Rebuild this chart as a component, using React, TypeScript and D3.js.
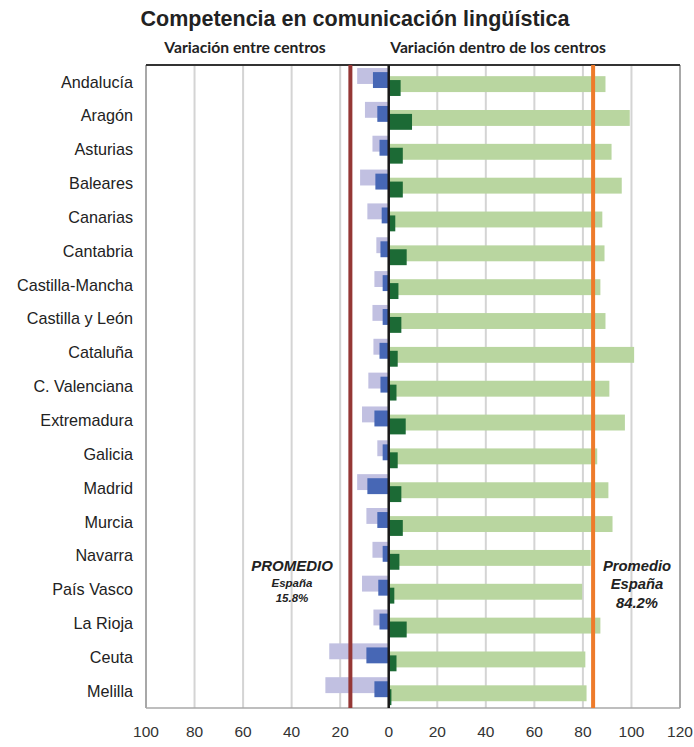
import React from "react";
import * as d3 from "d3";

const categories = [
  "Andalucía", "Aragón", "Asturias", "Baleares", "Canarias", "Cantabria",
  "Castilla-Mancha", "Castilla y León", "Cataluña", "C. Valenciana", "Extremadura",
  "Galicia", "Madrid", "Murcia", "Navarra", "País Vasco", "La Rioja", "Ceuta", "Melilla",
];
// Variación entre centros (light = total, dark = after controls)
const betweenLight = [13.0, 9.8, 6.7, 11.8, 8.8, 5.1, 5.9, 6.7, 6.3, 8.4, 11.0, 4.7, 13.0, 9.2, 6.7, 11.0, 6.3, 24.5, 26.1];
const betweenDark = [6.5, 4.7, 3.8, 5.5, 2.9, 3.4, 2.5, 2.5, 3.8, 3.4, 5.9, 2.5, 8.8, 4.7, 2.5, 4.3, 3.8, 9.2, 5.9];
// Variación dentro de los centros
const withinLight = [89.3, 99.3, 91.8, 96.0, 88.0, 88.9, 87.2, 89.3, 101.1, 90.9, 97.3, 85.9, 90.5, 92.2, 83.2, 79.7, 87.2, 81.0, 81.5];
const withinDark = [4.9, 9.6, 5.8, 5.8, 2.7, 7.4, 4.0, 5.2, 3.7, 3.2, 7.0, 3.7, 5.2, 5.8, 4.4, 2.3, 7.4, 3.2, 1.1];
const avgBetween = 15.8;
const avgWithin = 84.2;
const xTicks = [-100, -80, -60, -40, -20, 0, 20, 40, 60, 80, 100, 120];

const W = 694, H = 747;
const left = 146, right = 680, top = 65, bottom = 708;

export default function App() {
  const x = d3.scaleLinear().domain([-100, 120]).range([left, right]);
  const y = d3.scaleBand().domain(categories).range([top, bottom]).padding(0);
  const bw = y.bandwidth();
  const bh = bw * 0.47;
  const off = [0.09, 0.21, 0.33, 0.445].map((f) => f * bw);
  const font = "'Liberation Sans', Arial, sans-serif";

  const bar = (v0: number, v1: number, cat: string, o: number, fill: string, key: string) => (
    <rect key={key} x={x(Math.min(v0, v1))} width={Math.abs(x(v1) - x(v0))} y={(y(cat) as number) + o} height={bh} fill={fill} />
  );

  return (
    <svg width={W} height={H} style={{ position: "absolute", left: 0, top: 0, background: "#fff" }} fontFamily={font}>
      <text x={355} y={26} textAnchor="middle" fontSize={21.5} fontWeight="bold" fill="#222">
        Competencia en comunicación lingüística
      </text>
      <text x={245} y={53} textAnchor="middle" fontSize={15.7} fontWeight="bold" fill="#222" fontFamily="Lato, sans-serif">
        Variación entre centros
      </text>
      <text x={498} y={53} textAnchor="middle" fontSize={15.7} fontWeight="bold" fill="#222" fontFamily="Lato, sans-serif">
        Variación dentro de los centros
      </text>

      {xTicks.map((t) => (
        <line key={"g" + t} x1={x(t)} x2={x(t)} y1={top} y2={bottom} stroke={t === -100 || t === 120 ? "#a8a8a8" : "#d4d4d4"} strokeWidth={2} />
      ))}
      <line x1={left} x2={right} y1={bottom} y2={bottom} stroke="#a8a8a8" strokeWidth={1.5} />
      <line x1={left} x2={right} y1={top} y2={top} stroke="#333" strokeWidth={2} />

      {categories.map((c, i) => (
        <g key={c}>
          {bar(0, -betweenLight[i], c, off[0], "#c1c0e1", "bl" + i)}
          {bar(0, -betweenDark[i], c, off[1], "#4767b5", "bd" + i)}
          {bar(0, withinLight[i], c, off[2], "#b9d6a0", "wl" + i)}
          {bar(0, withinDark[i], c, off[3], "#1c6a35", "wd" + i)}
          <text x={133} y={(y(c) as number) + bw / 2} dy="0.35em" textAnchor="end" fontSize={16.2} fill="#222">
            {c}
          </text>
        </g>
      ))}

      <line x1={x(-avgBetween)} x2={x(-avgBetween)} y1={top} y2={bottom} stroke="#953735" strokeWidth={4} />
      <line x1={x(avgWithin)} x2={x(avgWithin)} y1={top} y2={bottom} stroke="#ee7b2b" strokeWidth={4} />
      <line x1={x(0)} x2={x(0)} y1={top} y2={bottom} stroke="#1a1a1a" strokeWidth={2.5} />

      {xTicks.map((t) => (
        <text key={"t" + t} x={x(t)} y={732} dy="0.35em" textAnchor="middle" fontSize={15.5} fill="#333">
          {Math.abs(t)}
        </text>
      ))}

      <g fontStyle="italic" fontWeight="bold" fill="#222" textAnchor="middle">
        <text x={292} y={571} fontSize={15}>PROMEDIO</text>
        <text x={292} y={587} fontSize={11.5}>España</text>
        <text x={292} y={602} fontSize={11.5}>{avgBetween.toFixed(1) + "%"}</text>
        <text x={637} y={571} fontSize={14.8}>Promedio</text>
        <text x={637} y={589} fontSize={14.8}>España</text>
        <text x={637} y={608} fontSize={14.8}>{avgWithin.toFixed(1) + "%"}</text>
      </g>
    </svg>
  );
}
